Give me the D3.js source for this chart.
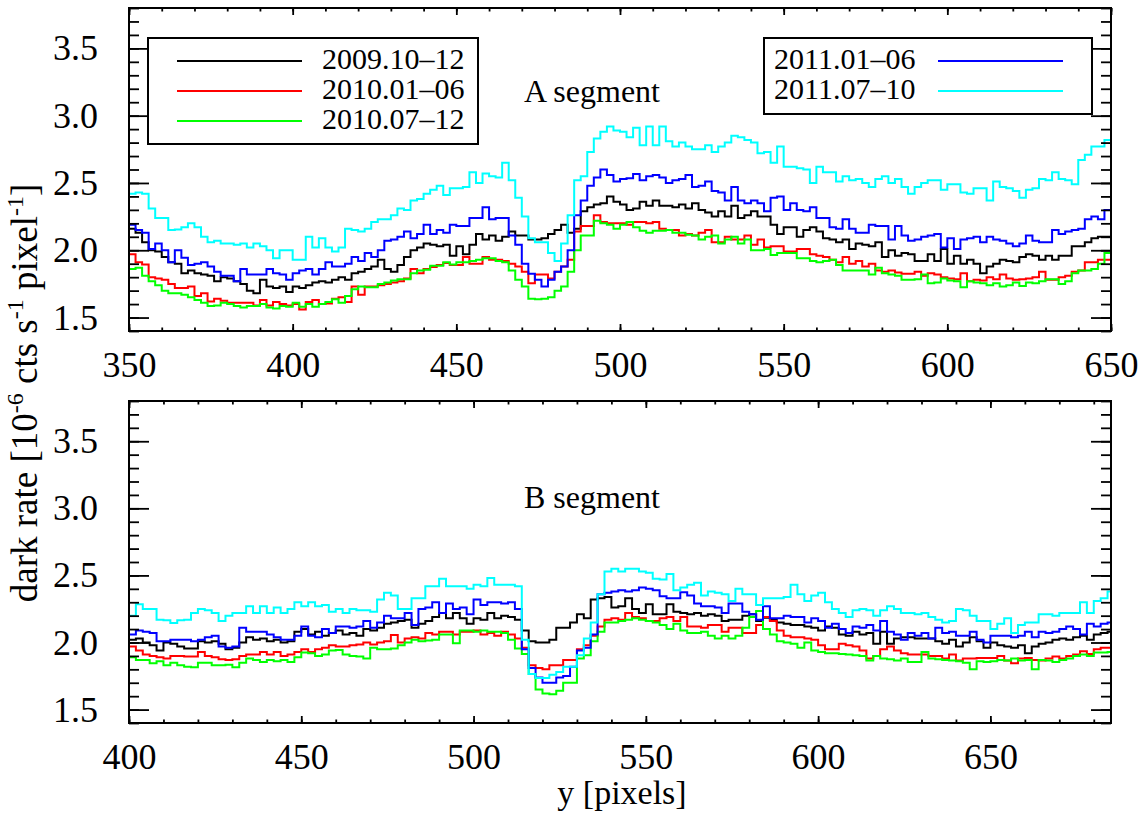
<!DOCTYPE html>
<html>
<head>
<meta charset="utf-8">
<script src="https://cdn.jsdelivr.net/npm/d3@7"></script>
<style>
  body { margin: 0; background: #fff; }
  svg text { font-family: "Liberation Serif", "DejaVu Serif", "Noto Serif", "Times New Roman", Times, serif; fill: #000; }
</style>
</head>
<body>
<svg id="chart" width="1146" height="814"></svg>
<script>
// dark rate, 2-pixel bins
const aStart = 350;
const bStart = 400;
const binWidth = 2;

// A segment, bins from y = 350
const aBlack = [2.16,2.13,2.06,2.00,1.99,1.95,1.91,1.90,1.83,1.85,1.83,1.82,1.81,1.77,1.80,1.79,1.77,1.75,1.70,1.68,1.78,1.73,1.72,1.73,1.69,1.73,1.72,1.74,1.76,1.77,1.76,1.78,1.80,1.78,1.83,1.84,1.86,1.88,1.93,1.86,1.84,1.89,1.95,2.00,2.02,2.05,2.04,2.03,2.04,1.96,
  2.03,1.97,2.04,2.12,2.08,2.11,2.07,2.10,2.14,2.11,2.11,2.08,2.08,2.09,2.12,2.15,2.19,2.13,2.16,2.29,2.32,2.34,2.35,2.40,2.36,2.34,2.30,2.31,2.36,2.33,2.37,2.33,2.33,2.32,2.34,2.31,2.35,2.30,2.28,2.25,2.29,2.25,2.33,2.24,2.26,2.29,2.25,2.25,2.19,2.12,
  2.17,2.17,2.10,2.15,2.17,2.14,2.09,2.08,2.06,2.08,2.01,2.05,2.04,2.03,2.06,1.95,2.00,1.96,1.98,1.97,1.92,1.92,1.97,1.92,2.01,1.90,1.96,1.90,1.93,1.90,1.83,1.88,1.90,1.93,1.92,1.91,1.95,1.97,1.96,1.93,1.96,1.93,1.96,1.96,2.03,2.03,2.06,2.09,2.10,2.10];
const aRed = [1.97,1.91,1.895,1.80,1.79,1.78,1.75,1.72,1.72,1.73,1.66,1.68,1.62,1.64,1.625,1.61,1.61,1.61,1.61,1.59,1.63,1.59,1.615,1.60,1.59,1.60,1.56,1.615,1.63,1.60,1.605,1.64,1.65,1.615,1.73,1.67,1.73,1.73,1.74,1.75,1.76,1.77,1.79,1.86,1.83,1.86,1.875,1.89,1.905,1.89,
  1.89,1.95,1.90,1.90,1.95,1.93,1.93,1.92,1.90,1.88,1.84,1.755,1.82,1.82,1.79,1.84,1.88,1.93,2.14,2.18,2.18,2.26,2.21,2.20,2.20,2.20,2.19,2.21,2.21,2.20,2.21,2.16,2.15,2.15,2.11,2.12,2.11,2.13,2.15,2.06,2.06,2.10,2.08,2.08,2.11,2.04,2.08,2.02,2.03,2.03,
  1.99,1.99,2.01,2.01,1.97,1.96,1.95,1.93,1.91,1.95,1.90,1.92,1.88,1.90,1.85,1.84,1.85,1.835,1.825,1.825,1.84,1.81,1.83,1.82,1.80,1.79,1.785,1.83,1.77,1.78,1.775,1.80,1.785,1.82,1.79,1.78,1.785,1.79,1.80,1.84,1.78,1.78,1.80,1.81,1.84,1.85,1.91,1.91,1.93,1.93];
const aGreen = [1.86,1.87,1.81,1.77,1.74,1.70,1.68,1.68,1.67,1.65,1.63,1.61,1.585,1.59,1.61,1.60,1.585,1.575,1.585,1.585,1.60,1.575,1.567,1.585,1.58,1.61,1.58,1.60,1.58,1.60,1.615,1.635,1.61,1.66,1.71,1.73,1.725,1.725,1.75,1.76,1.775,1.785,1.785,1.83,1.85,1.855,1.885,1.885,1.91,1.895,
  1.91,1.91,1.92,1.93,1.94,1.94,1.92,1.91,1.85,1.78,1.73,1.64,1.635,1.64,1.65,1.70,1.73,1.84,2.00,2.11,2.11,2.22,2.20,2.19,2.16,2.19,2.21,2.17,2.145,2.13,2.145,2.145,2.15,2.13,2.13,2.115,2.11,2.08,2.10,2.11,2.05,2.08,2.10,2.05,2.08,2.00,2.00,2.01,1.965,1.98,
  1.98,1.98,1.94,1.94,1.92,1.91,1.92,1.93,1.89,1.85,1.85,1.85,1.85,1.82,1.87,1.83,1.82,1.81,1.78,1.78,1.785,1.82,1.755,1.76,1.79,1.775,1.77,1.725,1.77,1.76,1.755,1.74,1.755,1.73,1.74,1.76,1.735,1.76,1.755,1.77,1.785,1.785,1.75,1.77,1.83,1.85,1.85,1.86,1.90,1.98];
const aBlue = [2.19,2.15,2.13,2.01,2.05,2.00,1.91,2.00,1.945,1.89,1.90,1.91,1.88,1.84,1.81,1.81,1.77,1.86,1.82,1.82,1.82,1.86,1.83,1.82,1.78,1.83,1.85,1.86,1.82,1.86,1.91,1.88,1.88,1.90,1.95,1.92,1.98,1.95,2.00,2.07,2.08,2.10,2.14,2.09,2.12,2.19,2.12,2.15,2.13,2.19,
  2.18,2.18,2.24,2.24,2.32,2.23,2.24,2.24,2.11,2.04,1.90,1.825,1.78,1.73,1.78,1.84,1.88,2.00,2.26,2.37,2.48,2.54,2.60,2.56,2.51,2.53,2.535,2.567,2.52,2.55,2.56,2.54,2.50,2.52,2.53,2.56,2.47,2.48,2.51,2.44,2.43,2.37,2.47,2.37,2.35,2.37,2.35,2.29,2.39,2.40,
  2.30,2.35,2.30,2.29,2.32,2.24,2.24,2.17,2.16,2.23,2.16,2.13,2.13,2.19,2.18,2.18,2.08,2.18,2.11,2.07,2.08,2.10,2.11,2.12,2.02,2.09,2.01,2.08,2.09,2.10,2.06,2.10,2.08,2.07,2.05,2.03,2.05,2.11,2.07,2.06,2.06,2.15,2.12,2.14,2.15,2.16,2.23,2.25,2.23,2.30];
const aCyan = [2.42,2.43,2.42,2.31,2.24,2.24,2.15,2.155,2.17,2.20,2.17,2.10,2.06,2.07,2.05,2.05,2.04,2.05,2.02,2.05,2.03,2.00,1.94,2.00,2.00,1.93,1.93,2.10,2.02,2.09,2.02,1.99,2.02,2.16,2.15,2.14,2.16,2.21,2.23,2.23,2.26,2.31,2.30,2.37,2.38,2.42,2.45,2.48,2.41,2.46,
  2.46,2.47,2.58,2.50,2.57,2.55,2.54,2.65,2.52,2.39,2.25,2.09,2.06,2.06,1.98,1.92,2.05,2.26,2.52,2.55,2.73,2.83,2.88,2.92,2.89,2.88,2.84,2.91,2.78,2.92,2.78,2.92,2.81,2.77,2.80,2.77,2.75,2.75,2.78,2.73,2.77,2.80,2.85,2.84,2.82,2.80,2.72,2.73,2.65,2.77,
  2.62,2.62,2.61,2.60,2.50,2.62,2.58,2.58,2.51,2.55,2.52,2.53,2.50,2.47,2.53,2.55,2.50,2.53,2.47,2.42,2.47,2.50,2.52,2.52,2.45,2.49,2.49,2.43,2.42,2.46,2.46,2.37,2.51,2.47,2.46,2.44,2.39,2.45,2.46,2.53,2.52,2.58,2.53,2.52,2.49,2.67,2.71,2.77,2.77,2.82];

// B segment, bins from y = 400
const bBlack = [2.02,2.03,2.00,1.98,1.94,2.00,1.99,1.97,1.955,1.955,2.01,2.00,2.01,1.99,1.95,1.96,2.00,2.04,2.02,2.03,2.01,2.02,2.00,2.01,2.08,2.10,2.06,2.08,2.05,2.07,2.09,2.06,2.07,2.05,2.10,2.09,2.11,2.14,2.15,2.16,2.17,2.11,2.14,2.16,2.19,2.22,2.18,2.22,2.18,2.14,2.18,2.17,2.22,2.18,2.20,2.19,2.17,2.09,2.01,2.00,2.00,2.02,2.11,2.11,2.15,2.21,2.18,2.32,2.33,2.34,2.26,2.27,
  2.33,2.25,2.22,2.285,2.21,2.21,2.285,2.23,2.22,2.21,2.22,2.20,2.21,2.20,2.16,2.17,2.17,2.20,2.21,2.16,2.185,2.17,2.15,2.14,2.13,2.13,2.12,2.11,2.09,2.12,2.11,2.06,2.05,2.08,2.06,2.07,1.99,2.08,1.99,2.03,2.04,2.04,2.03,2.03,2.03,2.01,1.99,2.02,1.97,2.00,2.04,2.01,1.96,2.00,1.98,1.97,1.96,1.98,1.92,1.97,1.99,2.00,2.02,2.03,2.02,2.04,2.05,2.02,2.06,2.07,2.08];
const bRed = [1.97,1.94,1.91,1.90,1.89,1.88,1.90,1.90,1.895,1.895,1.93,1.90,1.89,1.875,1.87,1.875,1.90,1.91,1.91,1.93,1.91,1.93,1.90,1.91,1.93,1.95,1.93,1.95,1.96,1.98,1.97,1.97,1.98,1.985,2.00,1.985,2.00,2.01,2.055,2.00,2.03,2.04,2.03,2.07,2.06,2.08,2.08,2.06,2.08,2.08,2.09,2.06,2.07,2.05,2.08,2.06,2.03,1.96,1.83,1.81,1.80,1.83,1.83,1.87,1.87,1.95,1.98,2.05,2.12,2.17,2.18,2.17,
  2.22,2.19,2.18,2.16,2.16,2.18,2.19,2.16,2.19,2.12,2.12,2.11,2.13,2.13,2.08,2.11,2.11,2.07,2.07,2.13,2.19,2.16,2.09,2.05,2.04,2.04,2.03,2.02,1.98,1.95,1.95,1.99,1.98,1.97,1.94,1.88,1.90,1.95,1.97,1.94,1.92,1.91,1.91,1.91,1.90,1.90,1.88,1.91,1.865,1.88,1.88,1.885,1.885,1.885,1.90,1.865,1.845,1.88,1.885,1.87,1.865,1.88,1.895,1.88,1.90,1.91,1.935,1.915,1.95,1.96,1.96];
const bGreen = [1.89,1.87,1.87,1.845,1.86,1.83,1.85,1.83,1.82,1.815,1.85,1.85,1.83,1.83,1.835,1.815,1.85,1.88,1.87,1.855,1.87,1.86,1.87,1.855,1.89,1.925,1.92,1.90,1.91,1.94,1.945,1.91,1.90,1.895,1.88,1.96,1.95,1.95,1.955,1.98,2.00,2.02,2.01,2.015,2.02,2.06,2.06,1.995,2.09,2.09,2.08,2.09,2.08,2.08,2.07,2.02,1.955,1.915,1.765,1.65,1.62,1.615,1.64,1.70,1.70,1.88,1.905,2.01,2.08,2.15,2.15,2.16,
  2.17,2.18,2.17,2.16,2.15,2.13,2.10,2.14,2.09,2.07,2.07,2.08,2.05,2.03,2.05,2.03,2.05,2.11,2.19,2.235,2.10,2.06,2.01,2.00,1.99,1.96,2.00,1.94,1.93,1.92,1.92,1.915,1.91,1.905,1.90,1.865,1.90,1.88,1.875,1.865,1.88,1.855,1.855,1.93,1.88,1.875,1.87,1.865,1.86,1.85,1.80,1.86,1.855,1.86,1.87,1.865,1.88,1.865,1.87,1.80,1.87,1.865,1.855,1.87,1.88,1.90,1.91,1.90,1.925,1.925,1.93];
const bBlue = [2.06,2.09,2.08,2.07,2.01,2.01,2.02,2.02,2.02,2.01,2.02,2.04,2.05,1.97,1.96,1.97,2.11,2.08,2.08,2.08,2.06,2.04,2.02,2.02,2.05,2.12,2.05,2.04,2.10,2.07,2.12,2.12,2.11,2.12,2.16,2.11,2.15,2.20,2.18,2.18,2.22,2.13,2.25,2.26,2.30,2.22,2.29,2.25,2.26,2.21,2.32,2.28,2.30,2.30,2.29,2.30,2.25,1.95,1.81,1.74,1.70,1.70,1.74,1.75,1.82,1.94,1.96,2.06,2.36,2.37,2.38,2.39,
  2.38,2.39,2.41,2.40,2.39,2.345,2.33,2.33,2.375,2.35,2.29,2.27,2.27,2.26,2.22,2.29,2.29,2.23,2.21,2.17,2.27,2.18,2.18,2.20,2.19,2.19,2.15,2.18,2.16,2.11,2.14,2.10,2.07,2.12,2.11,2.13,2.09,2.16,2.08,2.06,2.02,2.07,2.05,2.07,2.03,2.11,2.07,2.08,2.05,2.05,2.08,2.02,2.00,2.05,2.05,2.05,2.04,2.05,2.08,2.04,2.08,2.07,2.08,2.10,2.12,2.10,2.06,2.14,2.12,2.14,2.15];
const bCyan = [2.20,2.285,2.25,2.25,2.17,2.165,2.145,2.165,2.17,2.22,2.25,2.24,2.22,2.16,2.20,2.22,2.22,2.27,2.22,2.27,2.22,2.26,2.22,2.25,2.30,2.27,2.30,2.27,2.28,2.23,2.25,2.22,2.25,2.24,2.24,2.23,2.32,2.37,2.35,2.25,2.25,2.33,2.33,2.42,2.42,2.475,2.42,2.42,2.42,2.40,2.43,2.42,2.48,2.43,2.43,2.43,2.42,2.02,1.765,1.735,1.735,1.76,1.78,1.82,1.82,1.905,2.03,2.15,2.36,2.53,2.55,2.53,
  2.55,2.55,2.53,2.52,2.475,2.47,2.51,2.39,2.41,2.43,2.445,2.35,2.38,2.37,2.36,2.31,2.40,2.36,2.36,2.28,2.33,2.33,2.33,2.34,2.43,2.36,2.31,2.35,2.37,2.30,2.25,2.22,2.19,2.24,2.25,2.24,2.20,2.24,2.27,2.25,2.22,2.22,2.21,2.22,2.19,2.17,2.15,2.16,2.25,2.24,2.20,2.16,2.16,2.10,2.14,2.18,2.07,2.13,2.15,2.15,2.21,2.21,2.20,2.22,2.22,2.22,2.30,2.22,2.31,2.33,2.38];

const periods = ["2009.10–12", "2010.01–06", "2010.07–12", "2011.01–06", "2011.07–10"];
const colors = ["#000000", "#ff0000", "#00ff00", "#0000ff", "#00ffff"];
const yTicks = [1.5, 2.0, 2.5, 3.0, 3.5];
const xTicksA = [350, 400, 450, 500, 550, 600, 650];
const xTicksB = [400, 450, 500, 550, 600, 650];

const serif = '"Liberation Serif", "DejaVu Serif", "Noto Serif", "Times New Roman", Times, serif';
const svg = d3.select("#chart");
const left = 129, right = 1111;

const panels = [
  { name: "A segment", start: aStart, domain: [350, 650], ticks: xTicksA, top: 8, bottom: 331,
    series: [aBlack, aRed, aGreen, aBlue, aCyan] },
  { name: "B segment", start: bStart, domain: [400, 685], ticks: xTicksB, top: 401, bottom: 723,
    series: [bBlack, bRed, bGreen, bBlue, bCyan] }
];

panels.forEach((p, pi) => {
  const x = d3.scaleLinear().domain(p.domain).range([left, right]);
  const y = d3.scaleLinear().domain([1.4, 3.8]).range([p.bottom, p.top]);
  const g = svg.append("g");

  const clipId = "clip" + pi;
  svg.append("clipPath").attr("id", clipId)
    .append("rect").attr("x", left).attr("y", p.top)
    .attr("width", right - left).attr("height", p.bottom - p.top);

  // histogram-style step lines
  const line = d3.line().x(d => x(d[0])).y(d => y(d[1])).curve(d3.curveStepAfter);
  p.series.forEach((vals, si) => {
    const pts = vals.map((v, i) => [p.start + i * binWidth, v]);
    pts.push([p.start + vals.length * binWidth, vals[vals.length - 1]]);
    g.append("path")
      .attr("clip-path", `url(#${clipId})`)
      .attr("d", line(pts))
      .attr("fill", "none")
      .attr("stroke", colors[si])
      .attr("stroke-width", 2);
  });

  // minor ticks
  const minorX = d3.range(p.domain[0], p.domain[1] + 0.1, 10);
  const minorY = d3.range(1.4, 3.81, 0.1);
  g.append("g").attr("transform", `translate(0,${p.bottom})`)
    .call(d3.axisBottom(x).tickValues(minorX).tickSize(-3.5).tickFormat(""));
  g.append("g").attr("transform", `translate(0,${p.top})`)
    .call(d3.axisTop(x).tickValues(minorX).tickSize(-3.5).tickFormat(""));
  g.append("g").attr("transform", `translate(${left},0)`)
    .call(d3.axisLeft(y).tickValues(minorY).tickSize(-10).tickFormat(""));
  g.append("g").attr("transform", `translate(${right},0)`)
    .call(d3.axisRight(y).tickValues(minorY).tickSize(-10).tickFormat(""));

  // major ticks with labels
  g.append("g").attr("transform", `translate(0,${p.bottom})`)
    .call(d3.axisBottom(x).tickValues(p.ticks).tickSize(-7).tickPadding(20).tickFormat(d3.format("d")));
  g.append("g").attr("transform", `translate(0,${p.top})`)
    .call(d3.axisTop(x).tickValues(p.ticks).tickSize(-7).tickFormat(""));
  g.append("g").attr("transform", `translate(${left},0)`)
    .call(d3.axisLeft(y).tickValues(yTicks).tickSize(-20).tickPadding(31).tickFormat(d3.format(".1f")));
  g.append("g").attr("transform", `translate(${right},0)`)
    .call(d3.axisRight(y).tickValues(yTicks).tickSize(-20).tickFormat(""));

  g.selectAll("g").attr("font-family", serif);
  g.selectAll(".domain").remove();
  g.selectAll(".tick line").attr("stroke", "#000").attr("stroke-width", 1.8);
  g.selectAll(".tick text").style("font-family", serif).attr("font-size", 36).attr("fill", "#000");

  g.append("rect").attr("x", left).attr("y", p.top)
    .attr("width", right - left).attr("height", p.bottom - p.top)
    .attr("fill", "none").attr("stroke", "#000").attr("stroke-width", 2);

  g.append("text").attr("x", 524).attr("y", p.top + (pi === 0 ? 94 : 107))
    .style("font-family", serif).attr("font-size", 32).text(p.name);
});

// legends
function legend(items, cols, box, textFirst) {
  const lg = svg.append("g");
  lg.append("rect").attr("x", box[0]).attr("y", box[1]).attr("width", box[2]).attr("height", box[3])
    .attr("fill", "#fff").attr("stroke", "#000").attr("stroke-width", 2);
  items.forEach((t, i) => {
    const ly = box[1] + 23 + i * 30;
    const lx = textFirst ? box[0] + 174 : box[0] + 29;
    const tx = textFirst ? box[0] + 10 : box[0] + 174;
    lg.append("line").attr("x1", lx).attr("x2", lx + 125).attr("y1", ly).attr("y2", ly)
      .attr("stroke", cols[i]).attr("stroke-width", 2);
    lg.append("text").attr("x", tx).attr("y", ly + 8).style("font-family", serif)
      .attr("font-size", 30).text(t);
  });
}
legend(periods.slice(0, 3), colors.slice(0, 3), [148, 38, 330, 106], false);
legend(periods.slice(3), colors.slice(3), [764, 38, 328, 76], true);

// axis titles
const yt = svg.append("text").attr("transform", "translate(37,393) rotate(-90)")
  .attr("text-anchor", "middle").style("font-family", serif).attr("font-size", 37);
yt.append("tspan").text("dark rate [10");
yt.append("tspan").attr("dy", -14).attr("font-size", 24).text("-6");
yt.append("tspan").attr("dy", 14).text(" cts s");
yt.append("tspan").attr("dy", -14).attr("font-size", 24).text("-1");
yt.append("tspan").attr("dy", 14).text(" pixel");
yt.append("tspan").attr("dy", -14).attr("font-size", 24).text("-1");
yt.append("tspan").attr("dy", 14).text("]");

svg.append("text").attr("x", 622).attr("y", 804).attr("text-anchor", "middle")
  .style("font-family", serif).attr("font-size", 34).text("y [pixels]");
</script>
</body>
</html>
